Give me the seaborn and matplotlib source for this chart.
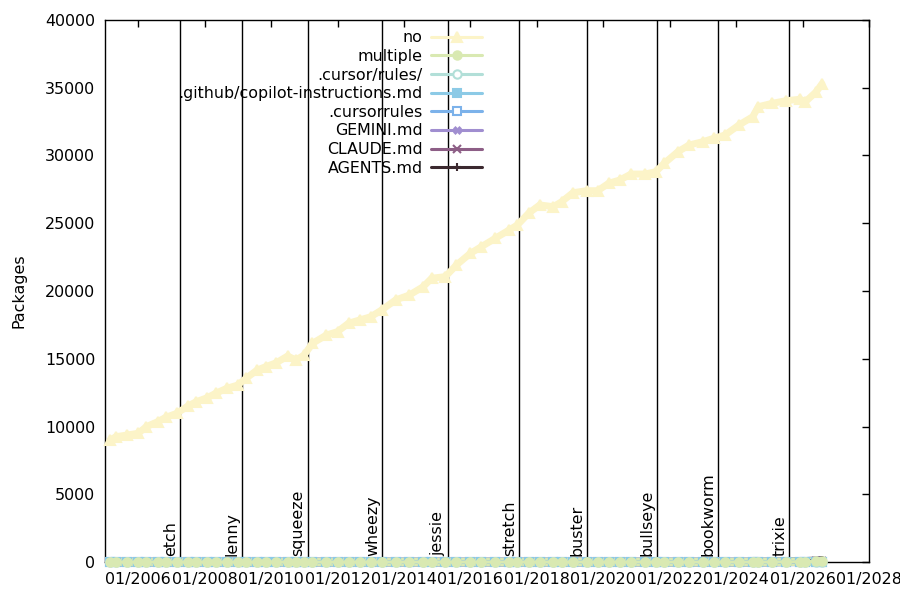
import matplotlib.pyplot as plt
import matplotlib.dates as mdates
import pandas as pd
import seaborn as sns

# Monthly snapshots
dates = ['2005-03', '2005-05', '2005-09', '2006-01', '2006-04', '2006-08', '2006-11',
         '2007-03', '2007-07', '2007-10', '2008-02', '2008-05', '2008-09', '2009-01',
         '2009-04', '2009-08', '2009-11', '2010-03', '2010-07', '2010-10', '2011-01',
         '2011-04', '2011-09', '2012-01', '2012-05', '2012-09', '2013-01', '2013-05',
         '2013-10', '2014-03', '2014-08', '2014-11', '2015-04', '2015-08', '2016-01',
         '2016-05', '2016-10', '2017-03', '2017-06', '2017-10', '2018-02', '2018-07',
         '2018-10', '2019-02', '2019-07', '2019-11', '2020-03', '2020-07', '2020-11',
         '2021-04', '2021-08', '2021-11', '2022-04', '2022-08', '2023-01', '2023-05',
         '2023-09', '2024-02', '2024-07', '2024-09', '2025-02', '2025-07', '2025-12',
         '2026-02', '2026-06', '2026-08']

no = [9000, 9250, 9370, 9500, 9990, 10350, 10680,
      10970, 11510, 11830, 12130, 12450, 12820, 13060,
      13560, 14170, 14410, 14710, 15200, 14910, 15280,
      16140, 16750, 17000, 17620, 17860, 18100, 18600,
      19340, 19700, 20320, 20940, 21060, 21920, 22780,
      23270, 23890, 24500, 24870, 25730, 26350, 26220,
      26590, 27250, 27400, 27400, 27950, 28190, 28630,
      28630, 28800, 29420, 30280, 30770, 31020, 31270,
      31510, 32250, 32860, 33600, 33850, 34040, 34150,
      33970, 34710, 35280]

# the other series stay at ~0 for the whole range at this scale
multiple = [0] * 60 + [5, 10, 20, 30, 40, 50]
cursor_rules_dir = [0] * 60 + [5, 10, 15, 20, 25, 30]
copilot = [0] * 60 + [2, 5, 10, 15, 20, 25]
cursorrules = [0] * 60 + [10, 15, 20, 20, 25, 25]
gemini = [0] * 60 + [0, 2, 5, 10, 15, 20]
claude = [0] * 60 + [2, 10, 20, 30, 45, 60]
agents = [0] * 60 + [5, 20, 40, 60, 90, 120]

releases = ['etch', 'lenny', 'squeeze', 'wheezy', 'jessie',
            'stretch', 'buster', 'bullseye', 'bookworm', 'trixie']
release_dates = ['2007-04-08', '2009-02-14', '2011-02-06', '2013-05-04', '2015-04-25',
                 '2017-06-17', '2019-07-06', '2021-08-14', '2023-06-10', '2025-08-09']

sns.set_style('white')
plt.rcParams['font.family'] = ['DejaVu Sans']
plt.rcParams['text.color'] = 'black'
plt.rcParams['axes.labelcolor'] = 'black'
plt.rcParams['xtick.color'] = 'black'
plt.rcParams['ytick.color'] = 'black'
fs = 11.4

x = pd.to_datetime(dates)

# label, values, color, marker, filled  (legend order)
series = [
    ('no', no, '#fcf4c8', '^', True),
    ('multiple', multiple, '#d9e9b2', 'o', True),
    ('.cursor/rules/', cursor_rules_dir, '#b2dfd8', 'o', False),
    ('.github/copilot-instructions.md', copilot, '#8ccae6', 's', True),
    ('.cursorrules', cursorrules, '#7cb2ea', 's', False),
    ('GEMINI.md', gemini, '#a08ed0', 'X', True),
    ('CLAUDE.md', claude, '#8d5e86', 'x', True),
    ('AGENTS.md', agents, '#3b292f', '+', True),
]

fig, ax = plt.subplots(figsize=(9, 6), dpi=100)
fig.subplots_adjust(left=0.1167, right=0.9656, bottom=0.0633, top=0.9667)

# release lines
for name, d in zip(releases, release_dates):
    d = pd.Timestamp(d)
    ax.axvline(d, color='black', lw=1, zorder=1)
    ax.annotate(name, xy=(d, 0.011), xycoords=('data', 'axes fraction'),
                xytext=(-1.5, 0), textcoords='offset points',
                rotation=90, ha='right', va='bottom', fontsize=fs)

handles = {}
# gnuplot draws them in reverse order, key inverted
for label, vals, color, marker, filled in reversed(series):
    main = label == 'no'
    sns.lineplot(x=x, y=vals, ax=ax, color=color, lw=2.2, marker=marker,
                 markersize=6.5 if main else 6, markeredgecolor=color,
                 markerfacecolor=color if filled else 'white',
                 markeredgewidth=1.5 if marker != 'X' else 0.5,
                 label=label, zorder=3)
    line = ax.lines[-1]
    line.set_clip_on(False)
    handles[label] = line
    # the dense weekly points make a thick band
    band = ax.plot(x, vals, color=color, lw=5 if main else 6, zorder=2.9,
                   solid_capstyle='round')[0]
    band.set_clip_on(False)

ax.legend([handles[s[0]] for s in series], [s[0] for s in series],
          loc='upper right', bbox_to_anchor=(0.4935, 0.981),
          markerfirst=False, frameon=False, handlelength=3.2,
          handletextpad=0.55, labelspacing=0.23, borderaxespad=0,
          borderpad=0, fontsize=fs)

ax.set_xlim(pd.Timestamp('2005-01-01'), pd.Timestamp('2028-01-01'))
ax.set_ylim(0, 40000)
ax.set_yticks(range(0, 40001, 5000))
ax.xaxis.set_major_locator(mdates.YearLocator(2))
ax.xaxis.set_major_formatter(mdates.DateFormatter('%m/%Y'))
ax.tick_params(direction='in', length=5, width=1, top=True, right=True,
               labelsize=fs, pad=7, color='black')
ax.set_xlabel('')
ax.set_ylabel('Packages', fontsize=fs)
ax.yaxis.set_label_coords(-0.103, 0.5)
for sp in ax.spines.values():
    sp.set_color('black')
    sp.set_linewidth(1)

fig.savefig('out.png', dpi=100)
